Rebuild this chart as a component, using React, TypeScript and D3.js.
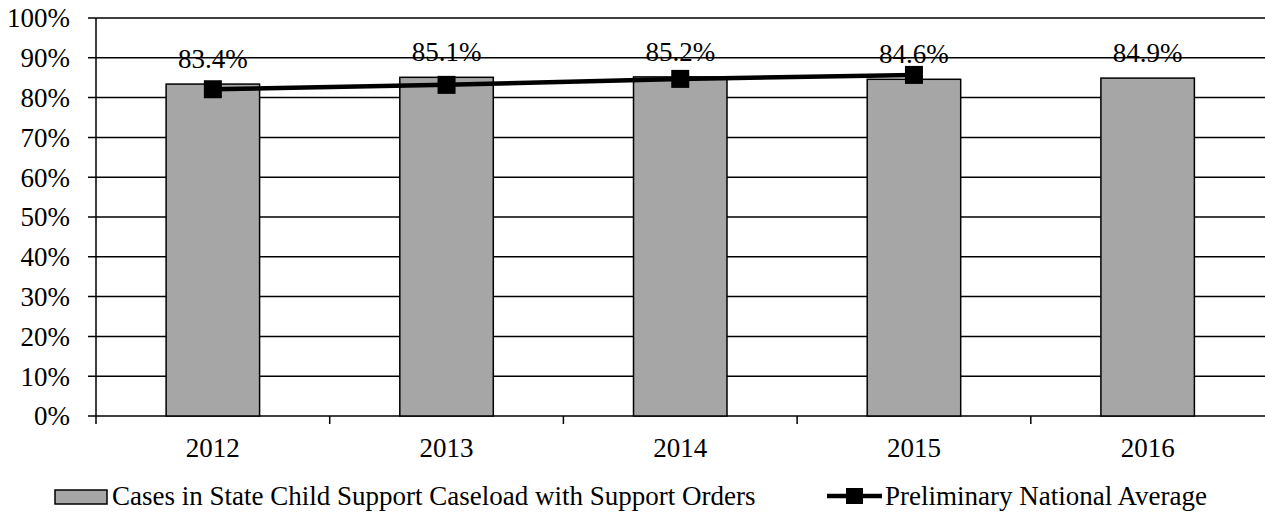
import React, { useRef, useEffect } from 'react';
import * as d3 from 'd3';

const years = ['2012', '2013', '2014', '2015', '2016'];
const caseloadPct = [83.4, 85.1, 85.2, 84.6, 84.9];
const nationalYears = ['2012', '2013', '2014', '2015'];
const nationalPct = [82.1, 83.2, 84.7, 85.7];
const yTicks = [0, 10, 20, 30, 40, 50, 60, 70, 80, 90, 100];

const W = 1265;
const H = 514;
const FONT = '"Liberation Serif", "Times New Roman", serif';
const FS = 27;

const App = () => {
  const svgRef = useRef<SVGSVGElement>(null);

  useEffect(() => {
    const svg = d3.select(svgRef.current);
    svg.selectAll('*').remove();

    const left = 96;
    const right = 1264.5;
    const top = 18;
    const bottom = 416;

    const x = d3.scaleBand().domain(years).range([left, right]).paddingInner(0).paddingOuter(0);
    const y = d3.scaleLinear().domain([0, 100]).range([bottom, top]);
    const barW = x.bandwidth() * 0.4;

    // gridlines + y tick labels
    const grid = svg.append('g');
    yTicks.forEach((t) => {
      grid
        .append('line')
        .attr('x1', left - 8)
        .attr('x2', W)
        .attr('y1', y(t))
        .attr('y2', y(t))
        .attr('stroke', '#000')
        .attr('stroke-width', 1.5);
      grid
        .append('text')
        .attr('x', 70)
        .attr('y', y(t))
        .attr('dy', '0.35em')
        .attr('text-anchor', 'end')
        .attr('font-family', FONT)
        .attr('font-size', FS)
        .text(`${t}%`);
    });

    // y axis line
    svg
      .append('line')
      .attr('x1', left)
      .attr('x2', left)
      .attr('y1', top)
      .attr('y2', bottom + 8)
      .attr('stroke', '#000')
      .attr('stroke-width', 1.5);

    // x ticks at band boundaries
    years.forEach((yr, i) => {
      if (i > 0) {
        svg
          .append('line')
          .attr('x1', x(yr)!)
          .attr('x2', x(yr)!)
          .attr('y1', bottom)
          .attr('y2', bottom + 8)
          .attr('stroke', '#000')
          .attr('stroke-width', 1.5);
      }
      svg
        .append('text')
        .attr('x', x(yr)! + x.bandwidth() / 2)
        .attr('y', 457)
        .attr('text-anchor', 'middle')
        .attr('font-family', FONT)
        .attr('font-size', FS)
        .text(yr);
    });

    // bars
    svg
      .selectAll('.bar')
      .data(caseloadPct)
      .join('rect')
      .attr('class', 'bar')
      .attr('x', (d, i) => x(years[i])! + (x.bandwidth() - barW) / 2)
      .attr('y', (d) => y(d))
      .attr('width', barW)
      .attr('height', (d) => bottom - y(d))
      .attr('fill', '#a6a6a6')
      .attr('stroke', '#000')
      .attr('stroke-width', 1.5);

    // line
    const cx = (yr: string) => x(yr)! + x.bandwidth() / 2;
    const line = d3
      .line<number>()
      .x((d, i) => cx(nationalYears[i]))
      .y((d) => y(d));
    svg
      .append('path')
      .datum(nationalPct)
      .attr('d', line)
      .attr('fill', 'none')
      .attr('stroke', '#000')
      .attr('stroke-width', 4.5);
    svg
      .selectAll('.pt')
      .data(nationalPct)
      .join('rect')
      .attr('class', 'pt')
      .attr('x', (d, i) => cx(nationalYears[i]) - 9)
      .attr('y', (d) => y(d) - 9)
      .attr('width', 18)
      .attr('height', 18)
      .attr('fill', '#000');

    // data labels
    svg
      .selectAll('.lbl')
      .data(caseloadPct)
      .join('text')
      .attr('class', 'lbl')
      .attr('x', (d, i) => cx(years[i]))
      .attr('y', (d) => y(d) - 16)
      .attr('text-anchor', 'middle')
      .attr('font-family', FONT)
      .attr('font-size', FS)
      .text((d) => `${d.toFixed(1)}%`);

    // legend
    const lg = svg.append('g');
    lg.append('rect')
      .attr('x', 55)
      .attr('y', 490)
      .attr('width', 52)
      .attr('height', 14)
      .attr('fill', '#a6a6a6')
      .attr('stroke', '#000')
      .attr('stroke-width', 1.5);
    lg.append('text')
      .attr('x', 112)
      .attr('y', 505)
      .attr('font-family', FONT)
      .attr('font-size', FS)
      .text('Cases in State Child Support Caseload with Support Orders');
    lg.append('line')
      .attr('x1', 827)
      .attr('x2', 882)
      .attr('y1', 496)
      .attr('y2', 496)
      .attr('stroke', '#000')
      .attr('stroke-width', 4.5);
    lg.append('rect')
      .attr('x', 846)
      .attr('y', 488)
      .attr('width', 17)
      .attr('height', 16)
      .attr('fill', '#000');
    lg.append('text')
      .attr('x', 885)
      .attr('y', 505)
      .attr('font-family', FONT)
      .attr('font-size', FS)
      .text('Preliminary National Average');
  }, []);

  return (
    <svg
      ref={svgRef}
      width={W}
      height={H}
      style={{ position: 'absolute', left: 0, top: 0, background: '#fff' }}
    />
  );
};

export default App;
